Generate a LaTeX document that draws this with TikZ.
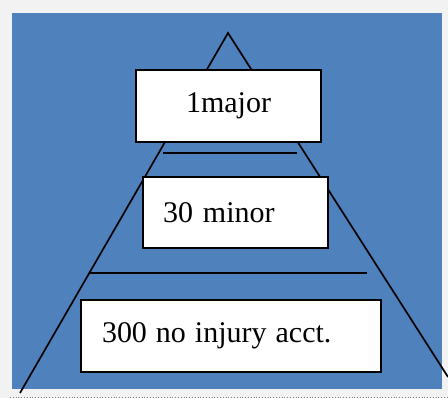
\documentclass[tikz,border=0pt]{standalone}
\usepackage{fontspec}
\setmainfont{Liberation Serif}

\begin{document}
\begin{tikzpicture}[x=1pt,y=-1pt]

    \definecolor{pageback}{RGB}{242,242,242}
    \definecolor{slideblue}{RGB}{79,129,189}
    \tikzset{
        levelbox/.style={draw=black, line width=1.8pt, fill=white, inner ysep=0pt,
            font=\fontsize{30}{34}\selectfont},
        levelline/.style={black, line width=1.7pt}
    }
    \useasboundingbox (0,0) rectangle (448,398);

    % Draw the page and the blue panel
    \fill[pageback] (0,0) rectangle (448,398);
    \fill[slideblue] (12,13) rectangle (442,389);
    \draw[gray, dotted, line width=0.8pt] (10,397) -- (448,397);

    % Draw the two sides of the pyramid
    \coordinate (apex) at (228,33);
    \coordinate (leftfoot) at (20,393);
    \coordinate (rightfoot) at (448,377);
    \draw[levelline] (leftfoot) -- (apex) -- (rightfoot);

    % Draw the lines between the levels
    \draw[levelline] (163,153) -- (297,153);
    \draw[levelline] (90,273) -- (367,273);

    % Draw the three boxes
    \node[levelbox, minimum width=185pt, minimum height=72pt, align=center] (major) at (228.5,106) {1major};
    \node[levelbox, minimum width=185pt, minimum height=71pt, text width=145pt, inner xsep=20pt, align=left] (minor) at (235.5,212.5) {30 minor};
    \node[levelbox, minimum width=300pt, minimum height=72pt, text width=258pt, inner xsep=21pt, align=left] (noinjury) at (231,336) {300 \hspace{-1pt}no \hspace{-1pt}injury \hspace{-1pt}acct.};

\end{tikzpicture}
\end{document}
